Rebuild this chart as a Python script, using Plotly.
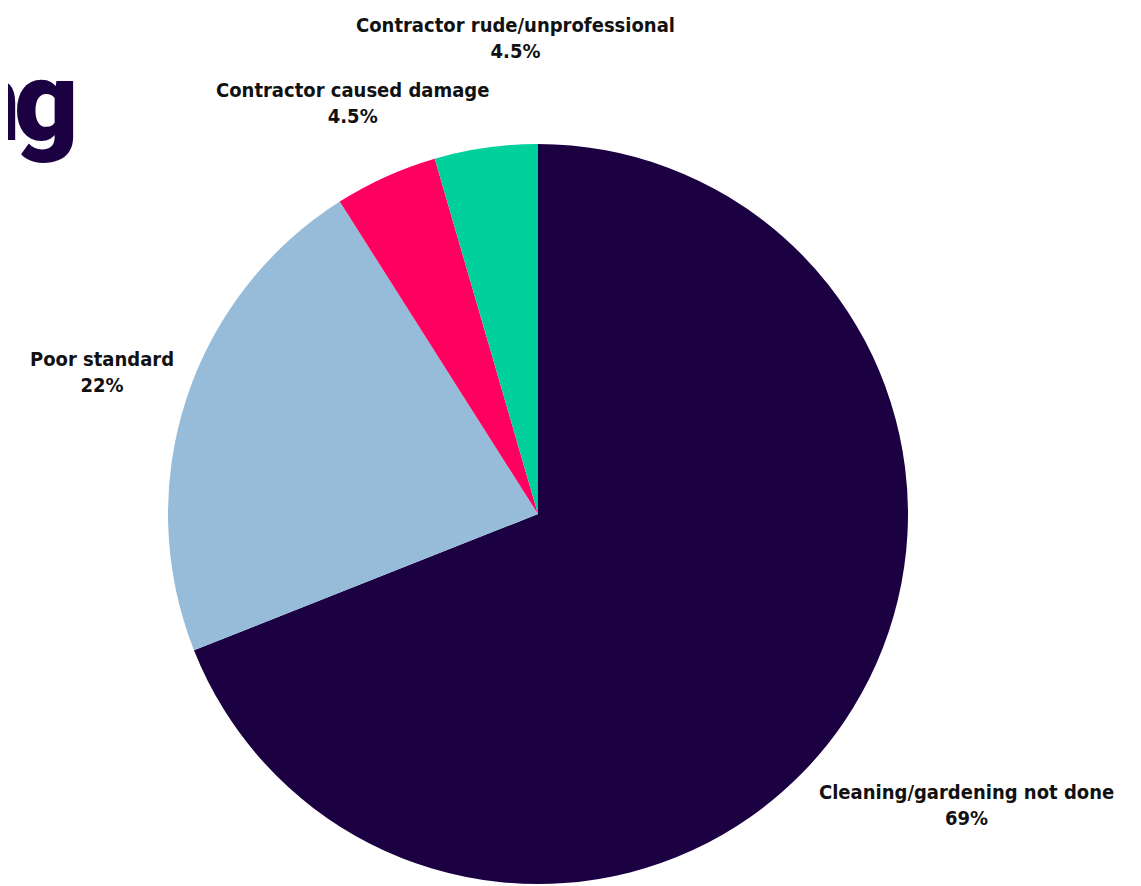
import numpy as np
import plotly.graph_objects as go

# slice data, clockwise from 12 o'clock
labels = ["Cleaning/gardening not done", "Poor standard", "Contractor caused damage", "Contractor rude/unprofessional"]
values = [69, 22, 4.5, 4.5]
pct_text = ["69%", "22%", "4.5%", "4.5%"]
colors = ["#1b0042", "#97bcd9", "#ff0060", "#00d19c"]

# title is clipped by the left edge in the source; only its last letters show
title_tail = ["n", "g"]

W, H = 1141, 886
OFF = 8  # page body margin
cx, cy, R = 538 - OFF, 514 - OFF, 370  # pie centre / radius in px

# how far out each label sits (multiples of the radius) and a small nudge
label_dist = [1.40, 1.24, 1.22, 1.30]
label_dx = [0, 0, 0, 45]

FONT = "DejaVu Sans Condensed, Liberation Sans Narrow, Roboto, sans-serif"

fig = go.Figure()
fig.add_trace(go.Pie(
    labels=labels,
    values=values,
    sort=False,
    direction="clockwise",
    rotation=0,
    marker=dict(colors=colors, line=dict(width=0)),
    textinfo="none",
    hoverinfo="label+percent",
    showlegend=False,
    domain=dict(x=[(cx - R) / W, (cx + R) / W], y=[1 - (cy + R) / H, 1 - (cy - R) / H]),
))

# labels placed on the mid angle of each slice
total = sum(values)
start = 0.0
for lab, v, pt, d, dx in zip(labels, values, pct_text, label_dist, label_dx):
    mid = np.deg2rad((start + v / 2) / total * 360)
    start += v
    px = cx + np.sin(mid) * R * d + dx
    py = cy - np.cos(mid) * R * d
    fig.add_annotation(
        x=px / W, y=1 - py / H, xref="paper", yref="paper",
        text=f"<b>{lab}</b><br><b>{pt}</b>", showarrow=False,
        xanchor="center", yanchor="middle", align="center",
        font=dict(family=FONT, size=20, color="#111111"),
    )

# clipped title remnant at top-left, letters packed tight like a condensed face
for ch, right in zip(title_tail, [22, 80]):
    fig.add_annotation(
        x=(right - OFF) / W, y=1 - (102 - OFF) / H, xref="paper", yref="paper",
        text=ch, showarrow=False, xanchor="right", yanchor="middle",
        font=dict(family="Roboto, sans-serif", size=112, color="#1b0042", weight=900),
    )

fig.update_layout(
    width=W, height=H,
    margin=dict(l=0, r=0, t=0, b=0),
    paper_bgcolor="white",
    plot_bgcolor="white",
)

fig.write_html("out.html")
